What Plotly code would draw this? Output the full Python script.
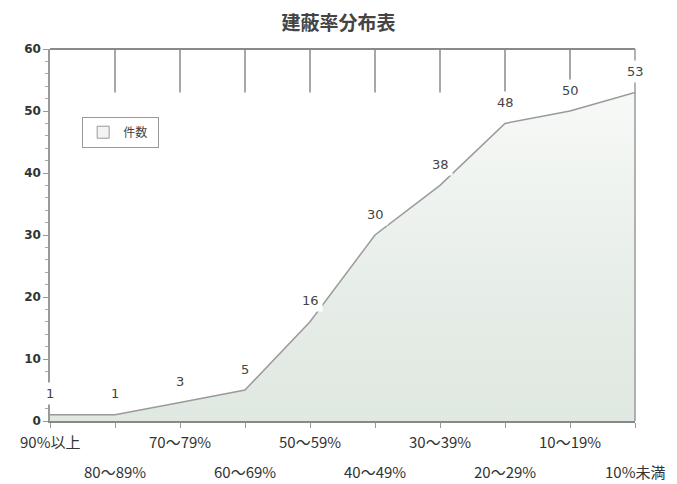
import plotly.graph_objects as go

title = "建蔽率分布表"
categories = ["90%以上", "80～89%", "70～79%", "60～69%", "50～59%",
              "40～49%", "30～39%", "20～29%", "10～19%", "10%未満"]
counts = [1, 1, 3, 5, 16, 30, 38, 48, 50, 53]
series_name = "件数"
y_ticks = [0, 10, 20, 30, 40, 50, 60]

xs = list(range(len(categories)))

fig = go.Figure()
fig.add_trace(go.Scatter(
    x=xs, y=counts, name=series_name, mode="lines", showlegend=False,
    line=dict(color="#9a9a9a", width=1.5),
    fill="tozeroy",
    fillgradient=dict(type="vertical",
                      colorscale=[[0, "#dfe8e1"], [0.5, "#e9efea"], [1, "#f7f9f7"]]),
))
# legend swatch (square box)
fig.add_trace(go.Bar(
    x=[None], y=[None], name=series_name + "  ",
    marker=dict(color="#f2f4f2", line=dict(color="#999", width=1)),
))

shapes = []
ymax = y_ticks[-1]
for i in xs[1:-1]:
    shapes.append(dict(type="line", xref="x", yref="y", x0=i, x1=i,
                       y0=ymax, y1=max(counts),
                       line=dict(color="#8a8a8a", width=1.5)))
shapes.append(dict(type="line", xref="paper", yref="paper", x0=0, x1=1, y0=1, y1=1,
                   line=dict(color="#8a8a8a", width=2)))
shapes.append(dict(type="line", xref="paper", yref="paper", x0=1, x1=1, y0=0, y1=1,
                   line=dict(color="#9a9a9a", width=1.5)))

annotations = []
for i, lab in enumerate(categories):
    annotations.append(dict(x=i, y=0, xref="x", yref="paper", text=lab,
                            showarrow=False, xanchor="center", yanchor="top",
                            yshift=-8 if i % 2 == 0 else -38,
                            font=dict(size=15, color="#333", family="Noto Sans CJK JP")))
for i, v in enumerate(counts):
    annotations.append(dict(x=i, y=v, xref="x", yref="y", text=str(v),
                            showarrow=False, xanchor="center", yanchor="middle",
                            yshift=21, bgcolor="white", borderpad=3,
                            font=dict(size=13, color="#444", family="DejaVu Sans")))

fig.update_layout(
    width=677, height=484,
    margin=dict(l=50, r=42, t=49, b=63),
    paper_bgcolor="white", plot_bgcolor="white",
    title=dict(text=title, x=0.5, xanchor="center", y=0.952, yanchor="middle",
               font=dict(size=19, color="#444", family="Noto Sans CJK JP", weight="bold")),
    showlegend=True,
    legend=dict(x=0.055, y=0.818, xanchor="left", yanchor="top",
                bgcolor="white", bordercolor="#999", borderwidth=1,
                font=dict(size=12, color="#444", family="Noto Sans CJK JP"),
                itemwidth=30),
    xaxis=dict(range=[0, len(categories) - 1], tickvals=xs, showticklabels=False,
               ticks="outside", ticklen=5, tickcolor="#999",
               showline=True, linecolor="#888", linewidth=1.5,
               showgrid=False, zeroline=False, fixedrange=True),
    yaxis=dict(range=[0, ymax], tickvals=y_ticks, ticks="outside", ticklen=5,
               tickcolor="#999", showline=True, linecolor="#999", linewidth=1.5,
               showgrid=False, zeroline=False,
               tickfont=dict(size=12, color="#333", family="DejaVu Sans", weight="bold"),
               minor=dict(dtick=2, ticks="outside", ticklen=3, tickcolor="#aaa")),
    shapes=shapes,
    annotations=annotations,
)

fig.write_html("out.html")
